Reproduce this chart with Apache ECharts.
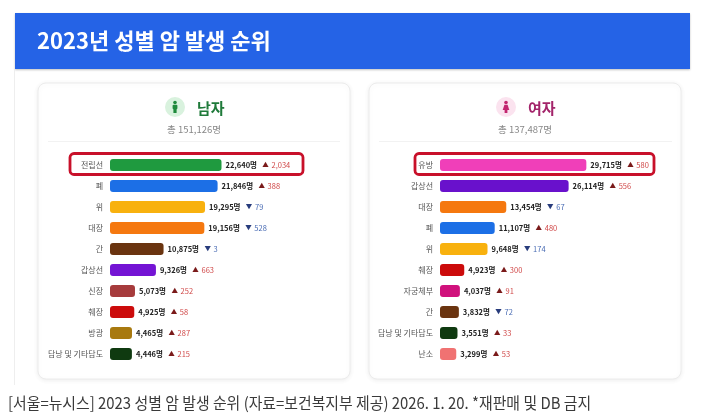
<!DOCTYPE html>
<html>
<head>
<meta charset="utf-8">
<script src="https://cdn.jsdelivr.net/npm/echarts@6/dist/echarts.min.js"></script>
<style>
html, body { margin: 0; padding: 0; background: #fff; }
#chart { width: 704px; height: 417px; }
</style>
</head>
<body>
<div id="chart"></div>
<script>
var FONT = '"Noto Sans CJK KR", "Noto Sans", sans-serif';

// 남자
var menCats = ['전립선', '폐', '위', '대장', '간', '갑상선', '신장', '췌장', '방광', '담낭 및 기타담도'];
var menValues = [22640, 21846, 19295, 19156, 10875, 9326, 5073, 4925, 4465, 4446];
var menDelta = [2034, 388, -79, -528, -3, 663, 252, 58, 287, 215];
var menColors = ['#1f9a3f', '#1c6fe6', '#f8b10e', '#f5780f', '#6a3410', '#7414d4', '#a63b3c', '#cc0b0b', '#a8790f', '#0f3a10'];

// 여자
var womenCats = ['유방', '갑상선', '대장', '폐', '위', '췌장', '자궁체부', '간', '담낭 및 기타담도', '난소'];
var womenValues = [29715, 26114, 13454, 11107, 9648, 4923, 4037, 3832, 3551, 3299];
var womenDelta = [580, 556, -67, 480, -174, 300, 91, -72, 33, 53];
var womenColors = ['#f03fb9', '#6911cc', '#f5780f', '#1c6fe6', '#f8b10e', '#cc0b0b', '#d0117c', '#6a3410', '#0f3a10', '#f07272'];

var menTotal = '총 151,126명';
var womenTotal = '총 137,487명';

function fmt(n) {
	return n.toString().replace(/\B(?=(\d{3})+(?!\d))/g, ',');
}

function makeData(values, colors) {
	return values.map(function (v, i) {
		return { value: v, itemStyle: { color: colors[i] } };
	});
}

function makeLabel(deltas) {
	return {
		show: true,
		position: 'right',
		distance: 4,
		fontFamily: FONT,
		formatter: function (p) {
			var d = deltas[p.dataIndex];
			var s = '{v|' + fmt(p.value) + '명}  ';
			if (d >= 0) s += '{tu|▲} {du|' + fmt(d) + '}';
			else s += '{td|▼} {dd|' + fmt(-d) + '}';
			return s;
		},
		rich: {
			v: { fontSize: 7.5, fontWeight: 'bold', color: '#222', fontFamily: FONT },
			tu: { fontSize: 6.5, color: '#7a1a1a', fontFamily: FONT },
			du: { fontSize: 7.5, color: '#d04848', fontFamily: FONT },
			td: { fontSize: 6.5, color: '#283c7c', fontFamily: FONT },
			dd: { fontSize: 7.5, color: '#4a6cb4', fontFamily: FONT }
		}
	};
}

function yAxisFor(cats, idx) {
	return {
		type: 'category', gridIndex: idx, data: cats, inverse: true,
		axisLine: { show: false }, axisTick: { show: false },
		axisLabel: { fontSize: 8, color: '#555', margin: 7, fontFamily: FONT }
	};
}

function xAxisFor(idx) {
	return {
		type: 'value', gridIndex: idx, min: 0, max: 40000,
		show: false, splitLine: { show: false }
	};
}

function panel(x) {
	return {
		type: 'rect',
		shape: { x: x, y: 83, width: 312, height: 296, r: 8 },
		style: { fill: '#fff', stroke: '#ececec', lineWidth: 1, shadowBlur: 5, shadowColor: 'rgba(0,0,0,0.07)', shadowOffsetY: 1 },
		z: -2
	};
}

function maleIcon(cx, cy) {
	return [
		{ type: 'circle', shape: { cx: cx, cy: cy, r: 10 }, style: { fill: '#d9f2de' } },
		{ type: 'circle', shape: { cx: cx, cy: cy - 4.5, r: 1.8 }, style: { fill: '#1f8a3c' } },
		{ type: 'rect', shape: { x: cx - 2.4, y: cy - 2.2, width: 4.8, height: 4.5, r: 1 }, style: { fill: '#1f8a3c' } },
		{ type: 'rect', shape: { x: cx - 1.6, y: cy + 2, width: 3.2, height: 4 }, style: { fill: '#1f8a3c' } }
	];
}

function femaleIcon(cx, cy) {
	return [
		{ type: 'circle', shape: { cx: cx, cy: cy, r: 10 }, style: { fill: '#fbe3ef' } },
		{ type: 'circle', shape: { cx: cx, cy: cy - 4.5, r: 1.8 }, style: { fill: '#c2256f' } },
		{ type: 'polygon', shape: { points: [[cx - 1.6, cy - 2.3], [cx + 1.6, cy - 2.3], [cx + 3.3, cy + 3], [cx - 3.3, cy + 3]] }, style: { fill: '#c2256f' } },
		{ type: 'rect', shape: { x: cx - 1.4, y: cy + 3, width: 2.8, height: 3 }, style: { fill: '#c2256f' } }
	];
}

var graphics = [
	// header
	{ type: 'rect', shape: { x: 15, y: 13, width: 675, height: 56 }, style: { fill: '#2563e6', shadowBlur: 2, shadowColor: 'rgba(0,0,0,0.25)', shadowOffsetY: 1 } },
	{ type: 'text', x: 37, y: 41, style: { text: '2023년 성별 암 발생 순위', fill: '#fff', font: 'bold 22px ' + FONT, textVerticalAlign: 'middle' } },
	{ type: 'line', shape: { x1: 14.5, y1: 69, x2: 14.5, y2: 385 }, style: { stroke: '#eeeeee', lineWidth: 1 } },
	panel(38),
	panel(369),
	{ type: 'line', shape: { x1: 48, y1: 141.5, x2: 340, y2: 141.5 }, style: { stroke: '#f2f2f2', lineWidth: 1 } },
	{ type: 'line', shape: { x1: 379, y1: 141.5, x2: 672, y2: 141.5 }, style: { stroke: '#f2f2f2', lineWidth: 1 } },
	// men header
	{ type: 'text', x: 197, y: 108, style: { text: '남자', fill: '#1f7a3a', font: 'bold 15px ' + FONT, textVerticalAlign: 'middle' } },
	{ type: 'text', x: 194, y: 129, style: { text: menTotal, fill: '#888', font: '9.5px ' + FONT, textAlign: 'center', textVerticalAlign: 'middle' } },
	// women header
	{ type: 'text', x: 528, y: 108, style: { text: '여자', fill: '#a3246a', font: 'bold 15px ' + FONT, textVerticalAlign: 'middle' } },
	{ type: 'text', x: 525, y: 129, style: { text: womenTotal, fill: '#888', font: '9.5px ' + FONT, textAlign: 'center', textVerticalAlign: 'middle' } },
	// highlight boxes
	{ type: 'rect', shape: { x: 70, y: 153.5, width: 233, height: 21, r: 4 }, style: { fill: 'none', stroke: '#c8102a', lineWidth: 2.8 }, z: 10 },
	{ type: 'rect', shape: { x: 415, y: 153.5, width: 239, height: 21, r: 4 }, style: { fill: 'none', stroke: '#c8102a', lineWidth: 2.8 }, z: 10 },
	// caption
	{ type: 'text', x: 8, y: 403, scaleX: 0.93, style: { text: '[서울=뉴시스] 2023 성별 암 발생 순위 (자료=보건복지부 제공) 2026. 1. 20. *재판매 및 DB 금지', fill: '#3a3a3a', font: '16px ' + FONT, textVerticalAlign: 'middle' } }
].concat(maleIcon(175, 107)).concat(femaleIcon(506, 107));

var chart = echarts.init(document.getElementById('chart'), null, { renderer: 'canvas' });
chart.setOption({
	backgroundColor: '#fff',
	animation: false,
	grid: [
		{ left: 110, top: 154.5, width: 197, height: 210 },
		{ left: 440, top: 154.5, width: 197, height: 210 }
	],
	xAxis: [xAxisFor(0), xAxisFor(1)],
	yAxis: [yAxisFor(menCats, 0), yAxisFor(womenCats, 1)],
	series: [
		{
			type: 'bar', xAxisIndex: 0, yAxisIndex: 0, barWidth: 12,
			data: makeData(menValues, menColors),
			itemStyle: { borderRadius: 3 },
			label: makeLabel(menDelta)
		},
		{
			type: 'bar', xAxisIndex: 1, yAxisIndex: 1, barWidth: 12,
			data: makeData(womenValues, womenColors),
			itemStyle: { borderRadius: 3 },
			label: makeLabel(womenDelta)
		}
	],
	graphic: graphics
});
</script>
</body>
</html>
